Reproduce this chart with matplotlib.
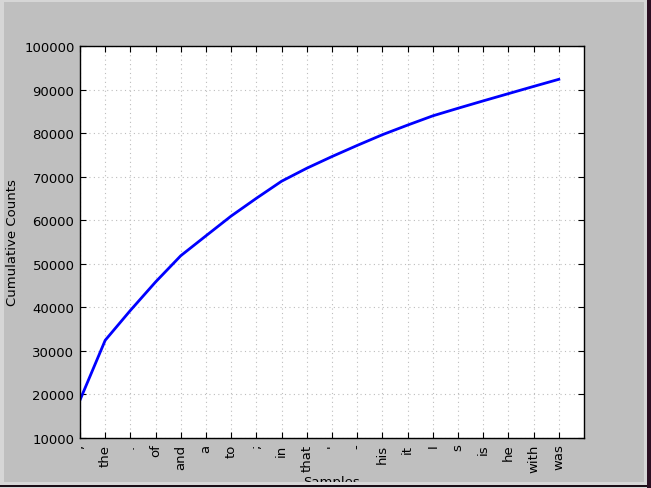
import matplotlib

matplotlib.use("Agg")
import matplotlib.pyplot as plt
from matplotlib.patches import Rectangle

# Cumulative word frequencies (top 20 samples)
samples = [",", "the", ".", "of", "and", "a", "to", ";", "in", "that",
           "'", "-", "his", "it", "I", "s", "is", "he", "with", "was"]
cumulative = [18713, 32434, 39296, 45832, 51856, 56425, 60967, 65039, 68955, 71937,
              74621, 77173, 79632, 81841, 83965, 85704, 87399, 89060, 90719, 92351]
yticks = [10000, 20000, 30000, 40000, 50000, 60000, 70000, 80000, 90000, 100000]

W, H = 651, 489
plt.rcParams.update({"font.family": "DejaVu Sans", "font.size": 9.5})

fig = plt.figure(figsize=(W / 100, H / 100), dpi=100, facecolor="#d6d6d6")


def px_rect(x0, y0, x1, y1, color, z):
    # rectangle given in pixel coords measured from the top-left corner
    fig.patches.append(Rectangle((x0 / W, 1 - y1 / H), (x1 - x0) / W, (y1 - y0) / H,
                                 transform=fig.transFigure, facecolor=color,
                                 edgecolor="none", zorder=z))


# window background
px_rect(4, 3, 644, 483, "#bfbfbf", -5)

ax = fig.add_axes([80 / W, 1 - 439 / H, 504 / W, 392 / H])
ax.plot(range(len(samples)), cumulative, color="blue", lw=2)
ax.set_xlim(0, len(samples))
ax.set_ylim(10000, 100000)
ax.set_yticks(yticks)
ax.set_xticks(range(len(samples)))
ax.set_xticklabels(samples, rotation=90)
ax.grid(True, color="#bdbdbd", linestyle=(0, (1, 3)), lw=0.8)
ax.tick_params(direction="in", top=True, right=True, length=4, colors="black",
               labelcolor="black", pad=4)
for s in ax.spines.values():
    s.set_linewidth(1)
ax.set_xlabel("Samples", labelpad=2)
ax.set_ylabel("Cumulative Counts")

# window frame drawn over the figure (clips the x label like the screenshot)
px_rect(0, 483, W, H, "#d6d6d6", 10)
px_rect(0, 486, W, 488, "#1a0d16", 11)
px_rect(644, 0, W, H, "#d6d6d6", 10)
px_rect(647, 0, W, H, "#2b0f22", 11)
px_rect(0, 0, W, 3, "#d6d6d6", 10)
px_rect(0, 0, 4, H, "#d6d6d6", 10)

fig.savefig("out.png", dpi=100, facecolor=fig.get_facecolor())
